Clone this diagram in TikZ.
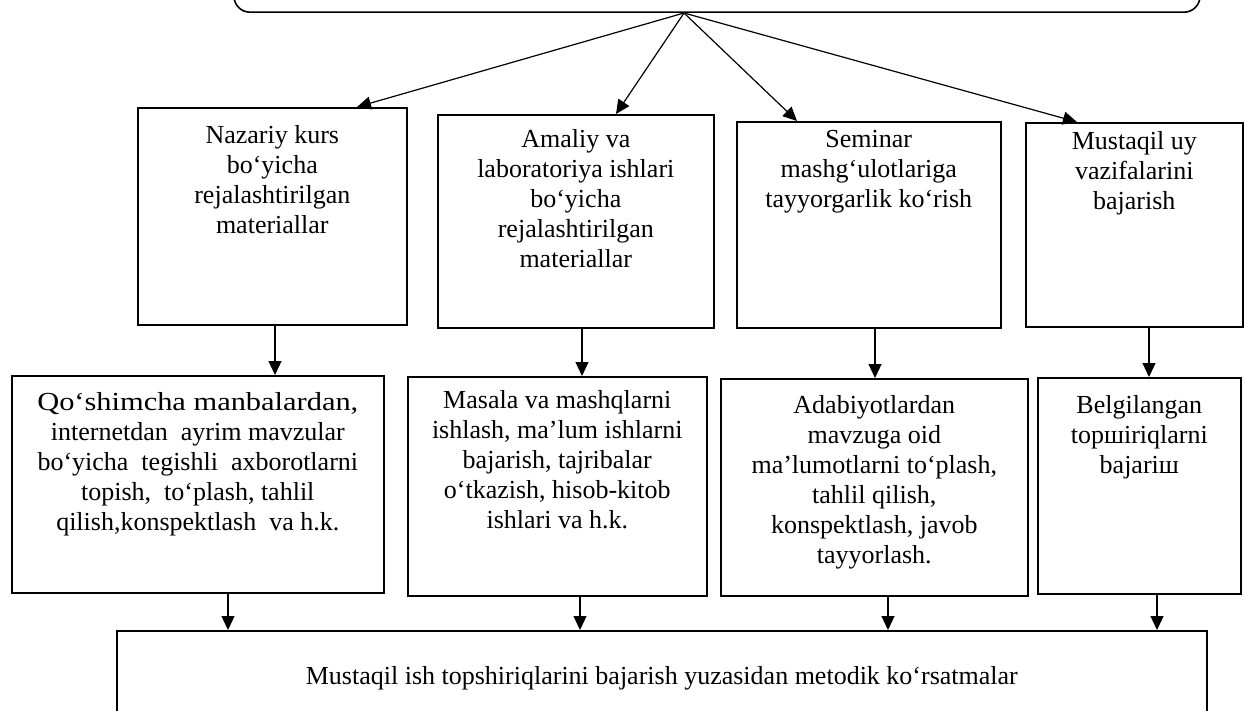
\documentclass[tikz,border=0pt]{standalone}
\usepackage{fontspec}
\setmainfont{Liberation Serif}
\usetikzlibrary{arrows.meta}
\tikzset{
  box/.style={draw, line width=1.6pt, inner sep=0pt},
  txt/.style={align=center, anchor=north, inner sep=0pt, font=\fontsize{26}{30}\selectfont},
  arr/.style={line width=1.2pt, -{Triangle[length=14pt,width=13pt]}},
}
\begin{document}
\begin{tikzpicture}[x=1pt,y=-1pt]
        \useasboundingbox (0,0) rectangle (1245,711);
        \clip (0,0) rectangle (1245,711);

        % bloc du haut (son texte est hors de la page)
        \node[box, rounded corners=16pt, minimum width=966pt, minimum height=80pt, anchor=south] (goal) at (717,13) {};
        \coordinate (hub) at (684,13);

        % premiere rangee
        \node[box, minimum width=269pt, minimum height=217pt, anchor=north west] (naz) at (137,107) {};
        \node[box, minimum width=276pt, minimum height=213pt, anchor=north west] (ama) at (437,114) {};
        \node[box, minimum width=264pt, minimum height=206pt, anchor=north west] (sem) at (736,121) {};
        \node[box, minimum width=217pt, minimum height=204pt, anchor=north west] (uy) at (1025,122) {};

        \node[txt] (nazT) at ([yshift=-18pt]naz.north) {Nazariy kurs\\bo‘yicha\\rejalashtirilgan\\materiallar};
        \node[txt] (amaT) at ([yshift=-15pt]ama.north) {Amaliy va\\laboratoriya ishlari\\bo‘yicha\\rejalashtirilgan\\materiallar};
        \node[txt] (semT) at ([yshift=-9pt]sem.north) {Seminar\\mashg‘ulotlariga\\tayyorgarlik ko‘rish};
        \node[txt] (uyT) at ([yshift=-9pt]uy.north) {Mustaqil uy\\vazifalarini\\bajarish};

        % deuxieme rangee
        \node[box, minimum width=372pt, minimum height=217pt, anchor=north west] (qosh) at (11,375) {};
        \node[box, minimum width=299pt, minimum height=219pt, anchor=north west] (mas) at (407,376) {};
        \node[box, minimum width=307pt, minimum height=217pt, anchor=north west] (adab) at (720,378) {};
        \node[box, minimum width=203pt, minimum height=216pt, anchor=north west] (belg) at (1037,377) {};

        \node[txt] (qoshT) at ([yshift=-17pt]qosh.north) {\scalebox{1.17}[1]{Qo‘shimcha manbalardan,}\\internetdan\ \ ayrim mavzular\\bo‘yicha\ \ tegishli\ \ axborotlarni\\topish,\ \ to‘plash, tahlil\\qilish,konspektlash\ \ va h.k.};
        \node[txt] (masT) at ([yshift=-14pt]mas.north) {Masala va mashqlarni\\ishlash, ma’lum ishlarni\\bajarish, tajribalar\\o‘tkazish, hisob-kitob\\ishlari va h.k.};
        \node[txt] (adabT) at ([yshift=-17pt]adab.north) {Adabiyotlardan\\mavzuga oid\\ma’lumotlarni to‘plash,\\tahlil qilish,\\konspektlash, javob\\tayyorlash.};
        \node[txt] (belgT) at ([yshift=-18pt]belg.north) {Belgilangan\\topшiriqlarni\\bajariш};

        % bloc du bas
        \node[box, minimum width=1090pt, minimum height=94pt, anchor=north west, font=\fontsize{26}{30}\selectfont] (metod) at (116,630) {Mustaqil ish topshiriqlarini bajarish yuzasidan metodik ko‘rsatmalar};

        % fleches
        \foreach \b/\dx in {naz/220, ama/179, sem/61, uy/52}
          \draw[arr] (hub) -- ([xshift=\dx pt]\b.north west);

        \foreach \a/\b/\dx in {naz/qosh/138, ama/mas/145, sem/adab/139, uy/belg/124}
          \draw[arr] (\a.south west) ++(\dx,0) coordinate (s) -- (s |- \b.north);

        \foreach \b/\dx in {qosh/217, mas/173, adab/168, belg/120}
          \draw[arr] (\b.south west) ++(\dx,0) coordinate (s) -- (s |- metod.north);
    \end{tikzpicture}
\end{document}
